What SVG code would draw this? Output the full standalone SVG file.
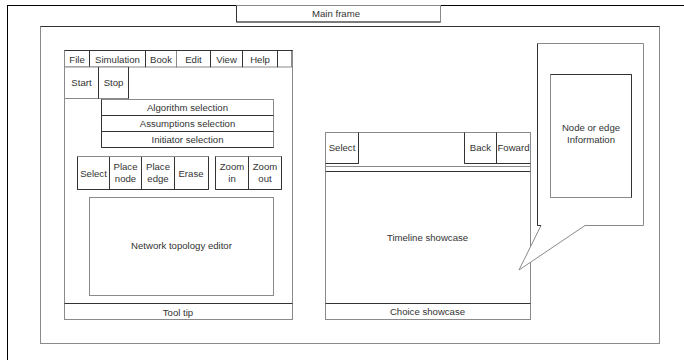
<svg xmlns="http://www.w3.org/2000/svg" width="684" height="360" viewBox="0 0 684 360">
<style>
.b{fill:#fff;stroke:#8a8a8a;stroke-width:1}
.d{fill:none;stroke:#333;stroke-width:1}
.l{fill:none;stroke:#8a8a8a;stroke-width:1}
text{font-family:"Liberation Sans",Arial,sans-serif;font-size:9.6px;fill:#333;text-anchor:middle}
</style>
<rect width="684" height="360" fill="#fff"/>
<g id="outer"><rect x="7.5" y="5.5" width="700" height="400" fill="none" stroke="#000"/></g>
<g id="mainframe-label"><rect class="b" x="236.5" y="5.5" width="204" height="16.5"/><path class="d" d="M236.5 5.5V22H440.5"/><text x="336" y="17">Main frame</text></g>
<g id="inner-frame"><rect class="b" x="40.5" y="26.5" width="619" height="317"/><path class="d" d="M40.5 26.5H659.5" stroke="#555"/></g>
<g id="left-panel">
<rect class="b" x="64.5" y="50.5" width="228" height="269"/>
<path class="d" d="M64.5 50.5H292.5"/>
<g id="menu">
<rect class="b" x="64.5" y="50.5" width="25" height="16.5"/><text x="77" y="62.5">File</text>
<rect class="b" x="89.5" y="50.5" width="56" height="16.5"/><text x="117.5" y="62.5">Simulation</text>
<rect class="b" x="145.5" y="50.5" width="31" height="16.5"/><text x="161" y="62.5">Book</text>
<rect class="b" x="176.5" y="50.5" width="34" height="16.5"/><text x="193.5" y="62.5">Edit</text>
<rect class="b" x="210.5" y="50.5" width="32" height="16.5"/><text x="226.5" y="62.5">View</text>
<rect class="b" x="242.5" y="50.5" width="35" height="16.5"/><text x="260" y="62.5">Help</text>
<rect class="b" x="277.5" y="50.5" width="14" height="16.5"/>
<path class="d" d="M64.5 50.5H292.5M89.5 50.5V67M145.5 50.5V67M210.5 50.5V67M242.5 50.5V67M277.5 50.5V67"/>
</g>
<g id="start-stop">
<rect class="b" x="64.5" y="67" width="34" height="31.5"/><text x="81.5" y="86">Start</text>
<rect class="b" x="98.5" y="67" width="30" height="31.5"/><text x="113.5" y="86">Stop</text>
<path class="d" d="M98.5 67V98.5M128.5 67V98.5"/>
</g>
<g id="selections">
<rect class="b" x="101.5" y="99.5" width="172" height="16"/><text x="187.5" y="111">Algorithm selection</text>
<rect class="b" x="101.5" y="115.5" width="172" height="16"/><text x="187.5" y="127">Assumptions selection</text>
<rect class="b" x="101.5" y="131.5" width="172" height="16"/><text x="187.5" y="143">Initiator selection</text>
<path class="d" d="M101.5 99.5V147.5H273.5M101.5 115.5H273.5M101.5 131.5H273.5"/>
</g>
<g id="tools">
<rect class="b" x="77.5" y="156.5" width="131" height="33"/>
<path class="d" d="M77.5 156.5V189.5H208.5V156.5M109.5 156.5V189.5M141.5 156.5V189.5M174.5 156.5V189.5"/>
<path class="l" d="M77.5 156.5H208.5"/>
<text x="93.5" y="176.5">Select</text>
<text x="125.5" y="170">Place</text><text x="125.5" y="182">node</text>
<text x="158" y="170">Place</text><text x="158" y="182">edge</text>
<text x="191" y="176.5">Erase</text>
<rect class="b" x="215.5" y="156.5" width="66" height="33"/>
<path class="d" d="M215.5 156.5V189.5H281.5V156.5M248.5 156.5V189.5"/>
<text x="232" y="170">Zoom</text><text x="232" y="182">in</text>
<text x="265" y="170">Zoom</text><text x="265" y="182">out</text>
</g>
<g id="editor"><rect class="b" x="89.5" y="197.5" width="184" height="98"/><text x="181.5" y="249">Network topology editor</text></g>
<g id="tooltip"><path class="d" d="M64.5 303.5H292.5"/><text x="178" y="315.5">Tool tip</text></g>
</g>
<g id="right-panel">
<rect class="b" x="325.5" y="132.5" width="205" height="187"/>
<rect class="b" x="325.5" y="132.5" width="33" height="31"/><path class="d" d="M358.5 132.5V163.5H325.5"/>
<text x="342" y="151">Select</text>
<rect class="b" x="464.5" y="132.5" width="32" height="31"/>
<rect class="b" x="496.5" y="132.5" width="34" height="31"/>
<path class="d" d="M464.5 132.5V163.5H530.5M496.5 132.5V163.5"/>
<text x="480.5" y="151">Back</text><text x="513.5" y="151">Foward</text>
<path class="l" d="M325.5 166.5H530.5"/><path class="d" d="M325.5 171.5H530.5"/>
<text x="427.5" y="240.5">Timeline showcase</text>
<path class="d" d="M325.5 303.5H530.5"/>
<text x="427.5" y="315">Choice showcase</text>
</g>
<g id="callout">
<path class="b" d="M537.5 43.5H643.5V225.5H585L519 270L541 225.5H537.5Z"/>
<path class="d" d="M537.5 43.5V225.5H541" stroke="#000"/>
<rect class="b" x="550.5" y="74.5" width="81" height="123"/>
<path class="d" d="M550.5 74.5H631.5V197.5"/>
<text x="591" y="131">Node or edge</text><text x="591" y="143">Information</text>
</g>
<g id="connectors"></g>
</svg>
